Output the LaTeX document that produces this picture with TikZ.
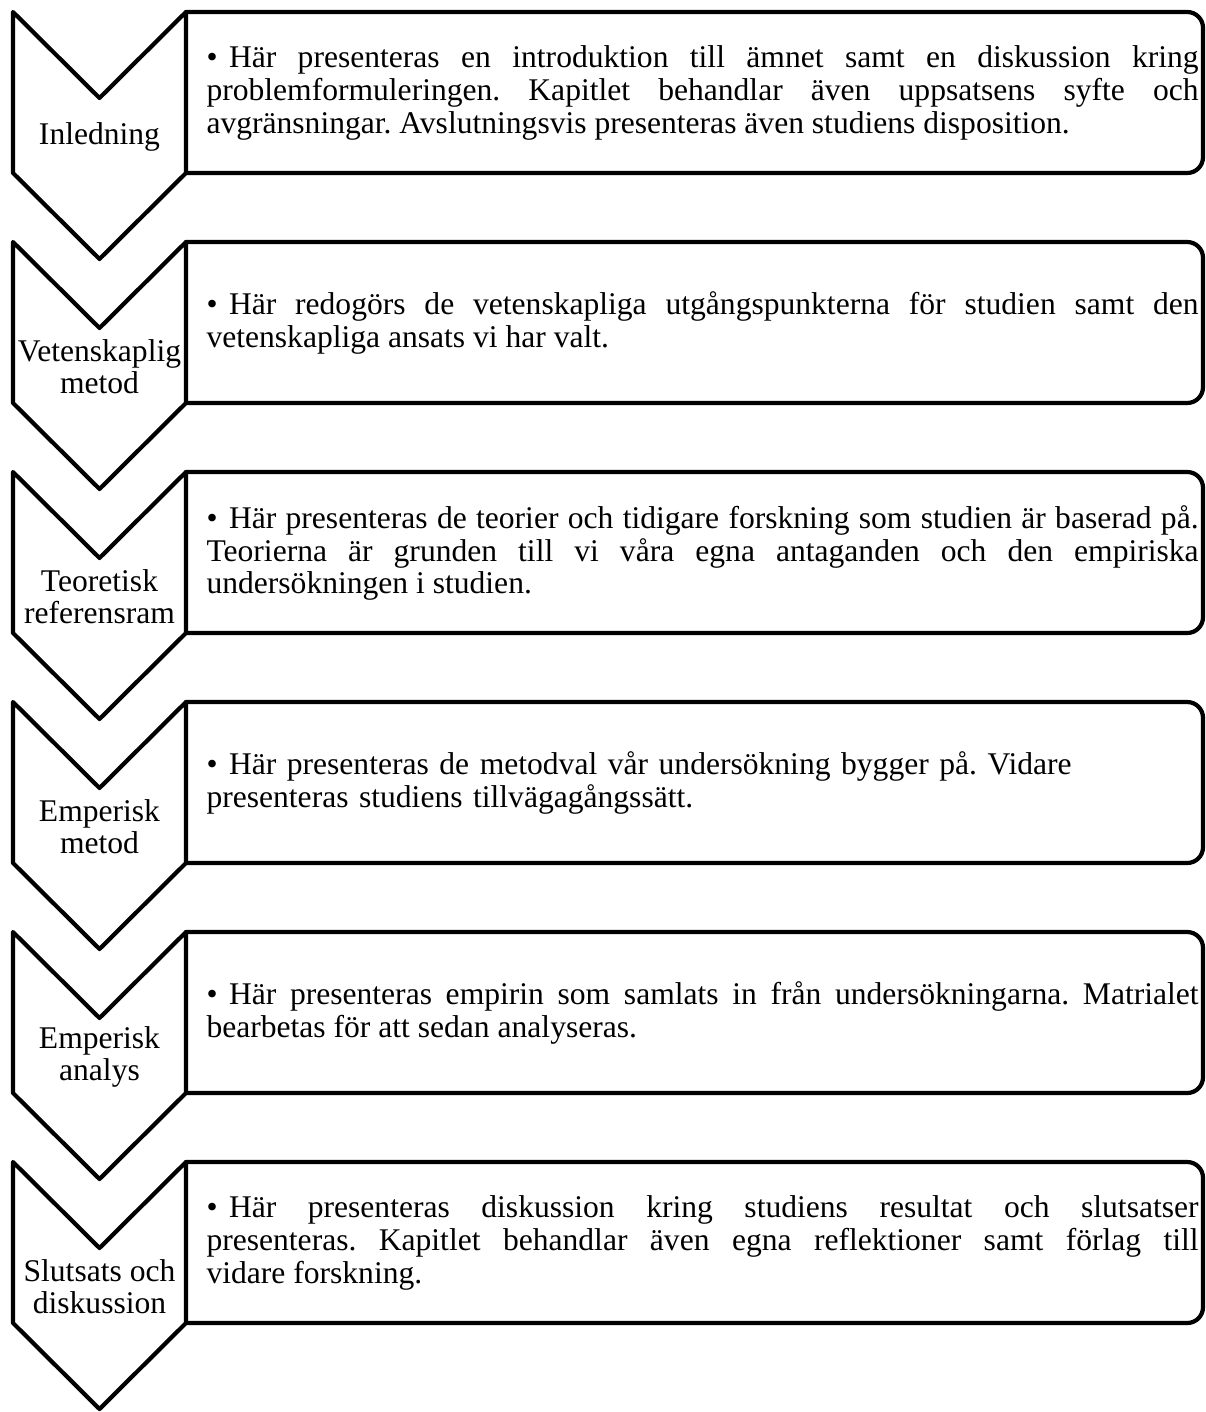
\documentclass[tikz,border=0pt]{standalone}
\usepackage{fontspec}
\setmainfont{Liberation Serif}
\tolerance=10000
\hyphenpenalty=10000
\frenchspacing
\newcommand{\punkt}{\hangindent=8.55pt\hangafter=1\noindent\makebox[8.55pt][l]{\textbullet}}

\begin{document}
\begin{tikzpicture}[line cap=round,line join=round,x=0.38pt,y=-0.38pt,
  chevronline/.style={line width=1.6pt},
  descbox/.style={line width=1.6pt,rounded corners=6pt},
  steplabel/.style={align=center,inner sep=0pt,font=\fontsize{12}{12.2}\selectfont},
  desctext/.style={anchor=west,inner sep=0pt,text width=377pt,align=justify,font=\fontsize{12}{12.5}\selectfont}]
\useasboundingbox (0,0) rectangle (1205,1412);
\clip (0,0) rectangle (1205,1412);
% Inledning
\draw[descbox] (186,12)--(1203,12)--(1203,173)--(186,173);
\draw[chevronline] (13,12)--(99.5,98)--(186,12)--(186,173)--(99.5,259)--(13,173)--cycle;
\node[steplabel] (inledning) at (99.5,137) {Inledning};
\node[desctext] (text1) at (206,93) {\punkt Här presenteras en introduktion till ämnet samt en diskussion kring\linebreak problemformuleringen. Kapitlet behandlar även uppsatsens syfte och\linebreak avgränsningar. Avslutningsvis presenteras även studiens disposition.};
% Vetenskaplig metod
\draw[descbox] (186,242)--(1203,242)--(1203,403)--(186,403);
\draw[chevronline] (13,242)--(99.5,328)--(186,242)--(186,403)--(99.5,489)--(13,403)--cycle;
\node[steplabel] (vetmetod) at (99.5,367) {Vetenskaplig\\metod};
\node[desctext] (text2) at (206,323) {\punkt Här redogörs de vetenskapliga utgångspunkterna för studien samt den\linebreak vetenskapliga ansats vi har valt.};
% Teoretisk referensram
\draw[descbox] (186,472)--(1203,472)--(1203,633)--(186,633);
\draw[chevronline] (13,472)--(99.5,558)--(186,472)--(186,633)--(99.5,719)--(13,633)--cycle;
\node[steplabel] (teori) at (99.5,597) {Teoretisk\\referensram};
\node[desctext] (text3) at (206,553) {\punkt Här presenteras de teorier och tidigare forskning som studien är baserad på.\linebreak Teorierna är grunden till vi våra egna antaganden och den empiriska\linebreak undersökningen i studien.};
% Emperisk metod
\draw[descbox] (186,702)--(1203,702)--(1203,863)--(186,863);
\draw[chevronline] (13,702)--(99.5,788)--(186,702)--(186,863)--(99.5,949)--(13,863)--cycle;
\node[steplabel] (empmetod) at (99.5,827) {Emperisk\\metod};
\node[desctext,align=left] (text4) at (206,783) {\punkt Här presenteras de metodval vår undersökning bygger på. Vidare\linebreak presenteras studiens tillvägagångssätt.};
% Emperisk analys
\draw[descbox] (186,932)--(1203,932)--(1203,1093)--(186,1093);
\draw[chevronline] (13,932)--(99.5,1018)--(186,932)--(186,1093)--(99.5,1179)--(13,1093)--cycle;
\node[steplabel] (empanalys) at (99.5,1057) {Emperisk\\analys};
\node[desctext] (text5) at (206,1013) {\punkt Här presenteras empirin som samlats in från undersökningarna. Matrialet\linebreak bearbetas för att sedan analyseras.};
% Slutsats och diskussion
\draw[descbox] (186,1162)--(1203,1162)--(1203,1323)--(186,1323);
\draw[chevronline] (13,1162)--(99.5,1248)--(186,1162)--(186,1323)--(99.5,1409)--(13,1323)--cycle;
\node[steplabel] (slutsats) at (99.5,1287) {Slutsats och\\diskussion};
\node[desctext] (text6) at (206,1243) {\punkt Här presenteras diskussion kring studiens resultat och slutsatser\linebreak presenteras. Kapitlet behandlar även egna reflektioner samt förlag till\linebreak vidare forskning.};
\end{tikzpicture}
\end{document}
